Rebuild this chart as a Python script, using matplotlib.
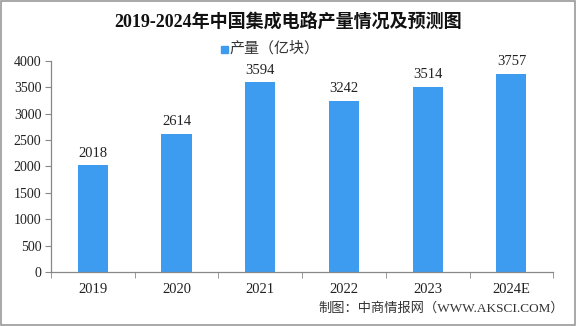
import matplotlib.pyplot as plt
from matplotlib.patches import Rectangle

plt.rcParams['font.family'] = ['Liberation Serif', 'Noto Sans CJK SC', 'DejaVu Sans']

# 集成电路产量（亿块）
years = ['2019', '2020', '2021', '2022', '2023', '2024E']
output = [2018, 2614, 3594, 3242, 3514, 3757]
yticks = [0, 500, 1000, 1500, 2000, 2500, 3000, 3500, 4000]

bar_color = '#3d9cf0'
axis_color = '#888888'

fig = plt.figure(figsize=(5.76, 3.26), dpi=100)
ax = fig.add_axes([0.0885, 0.166, 0.872, 0.647])

x = range(len(years))
bars = ax.bar(x, output, width=0.36, color=bar_color, zorder=2)
for xi, v in zip(x, output):
    ax.text(xi, v + 110, str(v), ha='center', va='bottom', fontsize=10.5, color='#222222')

ax.set_xlim(-0.5, len(years) - 0.5)
ax.set_ylim(0, 4000)
ax.set_yticks(yticks)
ax.set_yticklabels([str(t) for t in yticks], fontsize=10, color='#222222')
ax.set_xticks(list(x))
ax.set_xticklabels(years, fontsize=10.5, color='#222222')
ax.tick_params(axis='x', length=0, pad=8)
ax.tick_params(axis='y', length=4, color=axis_color, pad=3)
# category separators on the x axis
ax.set_xticks([i - 0.5 for i in range(len(years) + 1)], minor=True)
ax.tick_params(axis='x', which='minor', length=4, color=axis_color)

for side in ['top', 'right']:
    ax.spines[side].set_visible(False)
for side in ['left', 'bottom']:
    ax.spines[side].set_color(axis_color)
    ax.spines[side].set_linewidth(0.9)

fig.text(0.5, 0.93, '2019-2024年中国集成电路产量情况及预测图', ha='center', va='center',
         fontsize=13, fontweight='bold', color='#111111')

# legend
fig.patches.append(Rectangle((221 / 576, 1 - 53 / 326), 7 / 576, 7 / 326,
                             transform=fig.transFigure, color=bar_color))
fig.text(229 / 576, 1 - 48 / 326, '产量（亿块）', ha='left', va='center',
         fontsize=10.8, color='#333333')

fig.text(564 / 576, 1 - 308 / 326, '制图：中商情报网（WWW.AKSCI.COM）', ha='right', va='center',
         fontsize=9.5, color='#333333')

# outer frame
fig.patches.append(Rectangle((0.002, 0.003), 0.996, 0.994, transform=fig.transFigure,
                             fill=False, edgecolor='#999999', linewidth=1.2))

fig.savefig('out.png', dpi=100)
